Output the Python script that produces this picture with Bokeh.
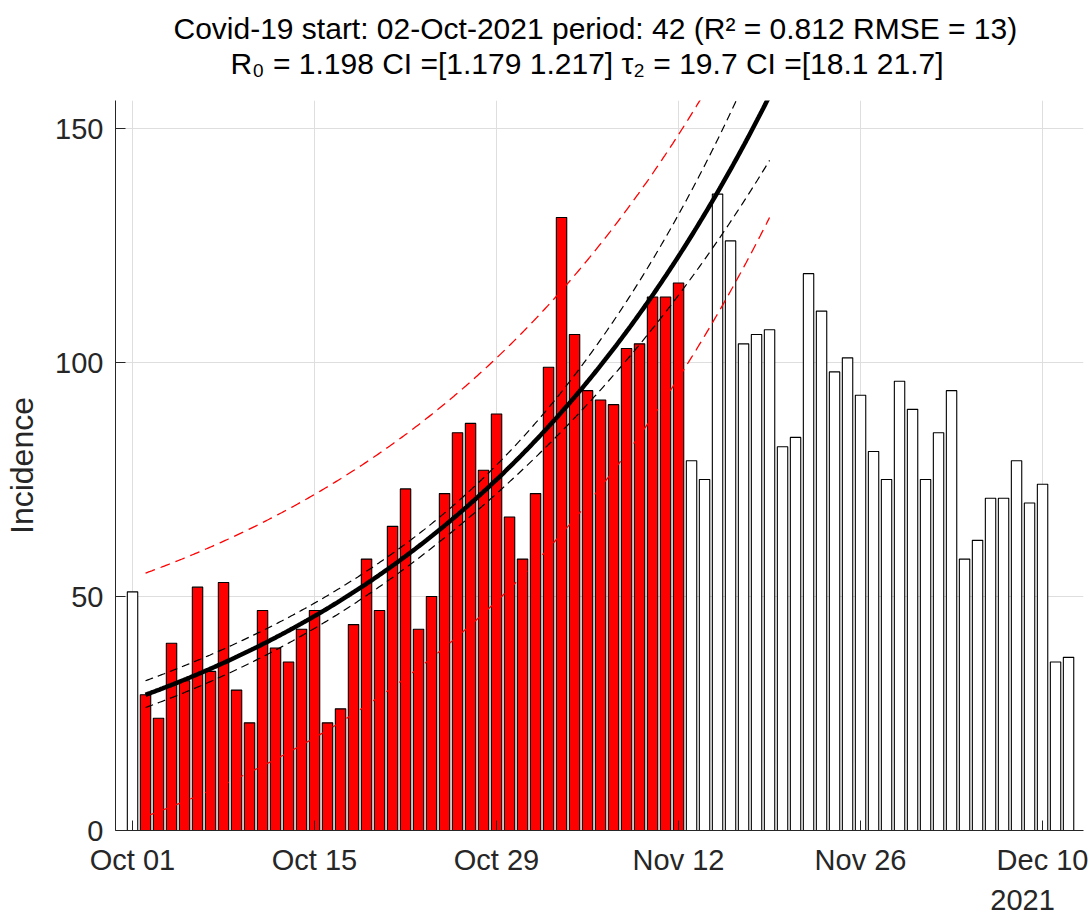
import numpy as np
import pandas as pd
from bokeh.plotting import figure
from bokeh.models import (ColumnDataSource, FixedTicker, DatetimeTickFormatter,
                          Range1d, Title, LinearAxis)
from bokeh.embed import file_html
from bokeh.resources import INLINE

# ---------------- data ----------------
START_DATE = "2021-10-01"
FIT_START = "2021-10-02"
PRE_VALUES = [51]
FIT_VALUES = [29, 24, 40, 32, 52, 34, 53, 30, 23, 47, 39, 36, 43, 47, 23, 26, 44, 58,
              47, 65, 73, 43, 50, 72, 85, 87, 77, 89, 67, 58, 72, 99, 131, 106, 94,
              92, 91, 103, 104, 114, 114, 117]
POST_VALUES = [79, 75, 136, 126, 104, 106, 107, 82, 84, 119, 111, 98, 101, 93, 81,
               75, 96, 90, 75, 85, 94, 58, 62, 71, 71, 79, 70, 74, 36, 37]
TICK_DATES = ["2021-10-01", "2021-10-15", "2021-10-29", "2021-11-12",
              "2021-11-26", "2021-12-10"]
Y_TICKS = [0, 50, 100, 150]
YEAR_LABEL = "2021"

# fitted model parameters (read from the title / picture)
FIT_A0 = 29.0          # incidence at fit start
FIT_TAU2 = 19.7        # doubling time (days)
FIT_DAYS = 48          # curve drawn to 19-Nov
CI_LOG_MIN = 0.04
CI_LOG_SLOPE = 0.0036
CI_CENTER = 25
PRED_HALF = 26.0

TITLE1 = "Covid-19 start: 02-Oct-2021 period: 42 (R² = 0.812  RMSE = 13)"
TITLE2 = "R₀ = 1.198  CI =[1.179 1.217]  τ₂ = 19.7  CI =[18.1 21.7]"

FONT = "Liberation Sans"
AXCOL = "#262626"
DAY_MS = 86400000

# ---------------- bars ----------------
values = PRE_VALUES + FIT_VALUES + POST_VALUES
dates = pd.date_range(START_DATE, periods=len(values), freq="D")
colors = (["white"] * len(PRE_VALUES) + ["#ff0000"] * len(FIT_VALUES)
          + ["white"] * len(POST_VALUES))
bar_src = ColumnDataSource(dict(date=dates, value=values, color=colors))

# ---------------- fit curves ----------------
t = np.linspace(0, FIT_DAYS, 400)
fit_dates = pd.Timestamp(FIT_START) + pd.to_timedelta(t, unit="D")
fit = FIT_A0 * 2 ** (t / FIT_TAU2)
half = np.sqrt(CI_LOG_MIN ** 2 + (CI_LOG_SLOPE * (t - CI_CENTER)) ** 2)
ci_hi = fit * np.exp(half)
ci_lo = fit * np.exp(-half)
pr_hi = fit + PRED_HALF
pr_lo = fit - PRED_HALF
curve_src = ColumnDataSource(dict(x=fit_dates, fit=fit, ci_hi=ci_hi, ci_lo=ci_lo,
                                  pr_hi=pr_hi, pr_lo=pr_lo))

start = pd.Timestamp(START_DATE)
p = figure(width=1091, height=916, x_axis_type="datetime",
           output_backend="svg", toolbar_location=None, title=None,
           x_range=Range1d(start - pd.Timedelta(days=1.31),
                           start + pd.Timedelta(days=73.15)),
           y_range=Range1d(0, 156),
           min_border_left=115, min_border_right=8,
           min_border_top=100, min_border_bottom=86)
p.outline_line_color = None
p.background_fill_color = "white"
p.border_fill_color = "white"

p.vbar(x="date", top="value", width=0.8 * DAY_MS, bottom=0, source=bar_src,
       fill_color="color", line_color="black", line_width=1.1)

p.line("x", "pr_hi", source=curve_src, line_color="#ff0000", line_width=1.3,
       line_dash="10 6")
p.line("x", "pr_lo", source=curve_src, line_color="#ff0000", line_width=1.3,
       line_dash="10 6")
p.line("x", "ci_hi", source=curve_src, line_color="black", line_width=1.2,
       line_dash="8 5")
p.line("x", "ci_lo", source=curve_src, line_color="black", line_width=1.2,
       line_dash="8 5")
p.line("x", "fit", source=curve_src, line_color="black", line_width=4.5)

# ---------------- axes ----------------
tick_ms = [pd.Timestamp(d).value // 10 ** 6 for d in TICK_DATES]
p.xaxis.ticker = FixedTicker(ticks=tick_ms)
fmt = "%b %d"
p.xaxis.formatter = DatetimeTickFormatter(days=fmt, months=fmt, years=fmt,
                                          hours=fmt, hourmin=fmt)
p.yaxis.ticker = FixedTicker(ticks=Y_TICKS)
p.xgrid.ticker = FixedTicker(ticks=tick_ms)
p.ygrid.ticker = FixedTicker(ticks=Y_TICKS)
p.grid.grid_line_color = "#dedede"
p.grid.grid_line_width = 1

for ax in (p.xaxis, p.yaxis):
    ax.axis_line_color = AXCOL
    ax.axis_line_width = 1
    ax.major_tick_line_color = AXCOL
    ax.major_tick_in = 10
    ax.major_tick_out = 0
    ax.minor_tick_line_color = None
    ax.major_label_text_font = FONT
    ax.major_label_text_font_size = "29px"
    ax.major_label_text_color = AXCOL
    ax.axis_label_text_font = FONT
    ax.axis_label_text_font_style = "normal"
    ax.axis_label_text_color = AXCOL

p.xaxis.major_label_standoff = 13
p.xaxis.major_label_text_line_height = 1.0
p.yaxis.major_label_standoff = 12
p.yaxis.axis_label = "Incidence"
p.yaxis.axis_label_text_font_size = "32px"
p.yaxis.axis_label_standoff = 12

# secondary date row ("2021") under the last tick, as a second bottom axis
year_ms = (start + pd.Timedelta(days=68.46)).value // 10 ** 6
year_axis = LinearAxis(ticker=FixedTicker(ticks=[year_ms]),
                       major_label_overrides={year_ms: YEAR_LABEL})
year_axis.axis_line_color = None
year_axis.major_tick_line_color = None
year_axis.minor_tick_line_color = None
year_axis.major_tick_in = 0
year_axis.major_tick_out = 0
year_axis.major_label_standoff = 11
year_axis.major_label_text_line_height = 1.0
year_axis.major_label_text_font = FONT
year_axis.major_label_text_font_size = "29px"
year_axis.major_label_text_color = AXCOL
p.add_layout(year_axis, "below")

# empty top axis: leaves a gap between the frame and the title lines
gap_axis = LinearAxis(ticker=FixedTicker(ticks=[]))
gap_axis.axis_line_color = None
gap_axis.major_tick_line_color = None
gap_axis.minor_tick_line_color = None
gap_axis.major_tick_in = 0
gap_axis.major_tick_out = 0
gap_axis.major_label_standoff = 0
gap_axis.axis_label = " "
gap_axis.axis_label_standoff = 1
gap_axis.axis_label_text_font_size = "16px"
p.add_layout(gap_axis, "above")

# ---------------- titles (two centred lines) ----------------
p.add_layout(Title(text=TITLE2, align="center", text_font=FONT,
                   text_font_size="30px", text_font_style="normal",
                   text_color="black", standoff=0), "above")
p.add_layout(Title(text=TITLE1, align="center", text_font=FONT,
                   text_font_size="30px", text_font_style="normal",
                   text_color="black", standoff=0), "above")

open("out.html", "w").write(file_html(p, INLINE))
